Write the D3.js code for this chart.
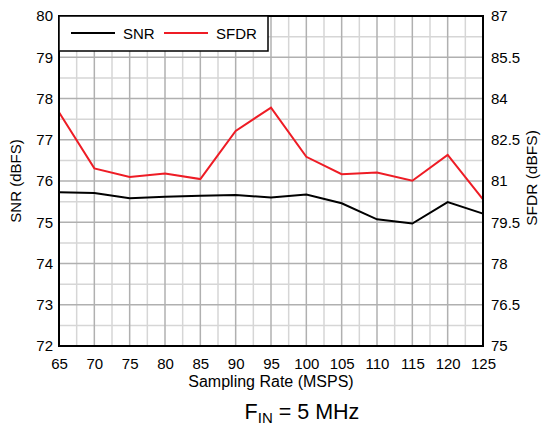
<!DOCTYPE html>
<html><head><meta charset="utf-8">
<script src="https://cdn.jsdelivr.net/npm/d3@7"></script>
<style>body{margin:0;background:#fff;} text{font-family:"Liberation Sans",Arial,sans-serif;}</style>
</head><body><svg id="c" width="547" height="426"></svg>
<script>
const rates = [65,70,75,80,85,90,95,100,105,110,115,120,125];
const snr = [75.73,75.71,75.58,75.62,75.64,75.66,75.60,75.67,75.46,75.07,74.97,75.49,75.21];
const sfdr = [83.50,81.46,81.15,81.27,81.07,82.82,83.67,81.88,81.25,81.31,81.01,81.95,80.33];
const xTicks = [65,70,75,80,85,90,95,100,105,110,115,120,125];
const yLeftTicks = [72,73,74,75,76,77,78,79,80];
const yRightTicks = [75,76.5,78,79.5,81,82.5,84,85.5,87];
const seriesNames = ["SNR","SFDR"];

const svg = d3.select("#c");
const L=59,R=483,T=16,B=346;
const x = d3.scaleLinear().domain([65,125]).range([L,R]);
const yL = d3.scaleLinear().domain([72,80]).range([B,T]);
const yR = d3.scaleLinear().domain([75,87]).range([B,T]);

// grid
const g = svg.append("g");
const xMinor = d3.range(67.5,125,5);
const yMinor = d3.range(72.5,80,1);
g.selectAll(".vm").data(xMinor).enter().append("line")
 .attr("x1",d=>x(d)).attr("x2",d=>x(d)).attr("y1",T).attr("y2",B)
 .attr("stroke","#d6d6d6").attr("stroke-width",1.5);
g.selectAll(".hm").data(yMinor).enter().append("line")
 .attr("y1",d=>yL(d)).attr("y2",d=>yL(d)).attr("x1",L).attr("x2",R)
 .attr("stroke","#d6d6d6").attr("stroke-width",1.5);
g.selectAll(".vM").data(xTicks.slice(1,-1)).enter().append("line")
 .attr("x1",d=>x(d)).attr("x2",d=>x(d)).attr("y1",T).attr("y2",B)
 .attr("stroke","#b0b0b0").attr("stroke-width",1.5);
g.selectAll(".hM").data(yLeftTicks.slice(1,-1)).enter().append("line")
 .attr("y1",d=>yL(d)).attr("y2",d=>yL(d)).attr("x1",L).attr("x2",R)
 .attr("stroke","#b0b0b0").attr("stroke-width",1.5);

// lines
const lineL = d3.line().x((d,i)=>x(rates[i])).y(d=>yL(d));
const lineR = d3.line().x((d,i)=>x(rates[i])).y(d=>yR(d));
svg.append("path").datum(snr).attr("d",lineL).attr("fill","none").attr("stroke","#000").attr("stroke-width",2);
svg.append("path").datum(sfdr).attr("d",lineR).attr("fill","none").attr("stroke","#ee1c25").attr("stroke-width",2);

// frame
svg.append("rect").attr("x",L).attr("y",T).attr("width",R-L).attr("height",B-T)
 .attr("fill","none").attr("stroke","#000").attr("stroke-width",2);

// axes
const fs = 15;
const ax = svg.append("g").attr("transform",`translate(0,${B})`)
 .call(d3.axisBottom(x).tickValues(xTicks).tickSize(0).tickPadding(12).tickFormat(d3.format("d")));
const ayl = svg.append("g").attr("transform",`translate(${L},0)`)
 .call(d3.axisLeft(yL).tickValues(yLeftTicks).tickSize(0).tickPadding(6).tickFormat(d3.format("d")));
const ayr = svg.append("g").attr("transform",`translate(${R},0)`)
 .call(d3.axisRight(yR).tickValues(yRightTicks).tickSize(0).tickPadding(8).tickFormat(d=>String(d)));
[ax,ayl,ayr].forEach(a=>{
  a.select(".domain").remove();
  a.selectAll("text").attr("font-size",fs).attr("fill","#000").style("font-family","Liberation Sans, Arial, sans-serif");
});

// axis titles
svg.append("text").attr("x",(L+R)/2).attr("y",387).attr("text-anchor","middle").attr("font-size",16).text("Sampling Rate (MSPS)");
svg.append("text").attr("transform",`translate(21,${(T+B)/2}) rotate(-90)`).attr("text-anchor","middle").attr("font-size",fs).text("SNR (dBFS)");
svg.append("text").attr("transform",`translate(537,${(T+B)/2 - 3}) rotate(-90)`).attr("text-anchor","middle").attr("font-size",15.5).text("SFDR (dBFS)");

// caption
const cap = svg.append("text").attr("x",302).attr("y",419).attr("text-anchor","middle").attr("font-size",21.5);
cap.append("tspan").text("F");
cap.append("tspan").attr("font-size",15).attr("dy",3.5).text("IN");
cap.append("tspan").attr("dy",-3.5).text(" = 5 MHz");

// legend
const lg = svg.append("g");
lg.append("rect").attr("x",L).attr("y",T).attr("width",209).attr("height",35)
 .attr("fill","#fff").attr("stroke","#000").attr("stroke-width",1.5);
const lgItems = [{name:seriesNames[0],color:"#000",x0:71},{name:seriesNames[1],color:"#ee1c25",x0:164}];
lgItems.forEach(it=>{
  lg.append("line").attr("x1",it.x0).attr("x2",it.x0+44).attr("y1",33).attr("y2",33).attr("stroke",it.color).attr("stroke-width",2);
  lg.append("text").attr("x",it.x0+52).attr("y",38.5).attr("font-size",fs).text(it.name);
});
</script></body></html>
